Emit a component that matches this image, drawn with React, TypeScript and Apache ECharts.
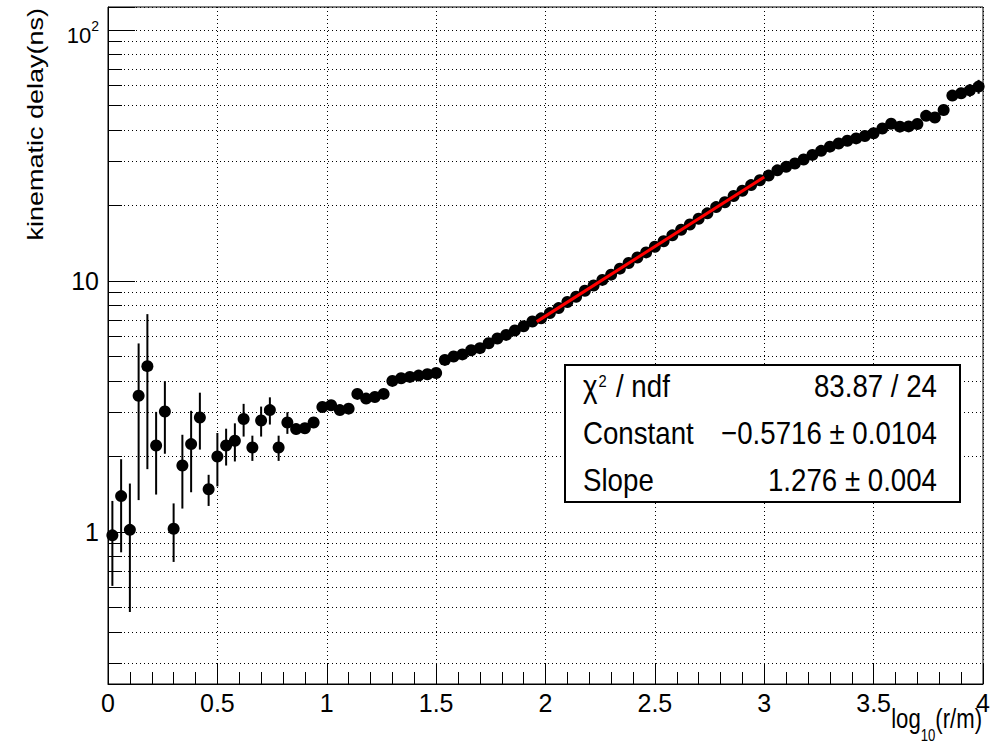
import { useEffect, useRef } from 'react';
import * as echarts from 'echarts';

// bin centres of log10(r/m)
const xCenters = [
  0.02, 0.06, 0.1, 0.14, 0.18, 0.22, 0.26, 0.3, 0.34, 0.38,
  0.42, 0.46, 0.5, 0.54, 0.58, 0.62, 0.66, 0.7, 0.74, 0.78,
  0.82, 0.86, 0.9, 0.94, 0.98, 1.02, 1.06, 1.1, 1.14, 1.18,
  1.22, 1.26, 1.3, 1.34, 1.38, 1.42, 1.46, 1.5, 1.54, 1.58,
  1.62, 1.66, 1.7, 1.74, 1.78, 1.82, 1.86, 1.9, 1.94, 1.98,
  2.02, 2.06, 2.1, 2.14, 2.18, 2.22, 2.26, 2.3, 2.34, 2.38,
  2.42, 2.46, 2.5, 2.54, 2.58, 2.62, 2.66, 2.7, 2.74, 2.78,
  2.82, 2.86, 2.9, 2.94, 2.98, 3.02, 3.06, 3.1, 3.14, 3.18,
  3.22, 3.26, 3.3, 3.34, 3.38, 3.42, 3.46, 3.5, 3.54, 3.58,
  3.62, 3.66, 3.7, 3.74, 3.78, 3.82, 3.86, 3.9, 3.94, 3.98,
];
const xHalfWidth = 0.02;

// kinematic delay (ns)
const delayValues = [
  0.97, 1.39, 1.02, 3.49, 4.58, 2.21, 3.02, 1.03, 1.84, 2.24,
  2.86, 1.48, 2.0, 2.21, 2.31, 2.82, 2.17, 2.78, 3.06, 2.17,
  2.73, 2.57, 2.59, 2.73, 3.15, 3.2, 3.06, 3.1, 3.55, 3.4,
  3.45, 3.55, 4.0, 4.1, 4.15, 4.2, 4.25, 4.3, 4.85, 5.0,
  5.1, 5.3, 5.4, 5.65, 5.9, 6.1, 6.35, 6.6, 6.9, 7.1,
  7.45, 7.8, 8.25, 8.65, 9.15, 9.6, 10.1, 10.6, 11.2, 11.8,
  12.4, 13.0, 13.7, 14.4, 15.2, 16.0, 16.8, 17.7, 18.6, 19.7,
  20.6, 21.8, 22.9, 24.1, 25.2, 26.3, 27.6, 28.5, 29.4, 30.5,
  31.8, 33.0, 34.3, 35.3, 36.2, 37.0, 37.8, 38.8, 40.5, 42.3,
  41.2, 41.3, 42.2, 45.5, 44.8, 48.0, 54.8, 56.0, 57.5, 59.5,
];

const delayErrors = [
  0.36, 0.56, 0.54, 2.15, 2.8, 0.8, 0.97, 0.27, 0.6, 0.8,
  0.73, 0.21, 0.48, 0.37, 0.4, 0.42, 0.25, 0.38, 0.38, 0.25,
  0.27, 0.12, 0.1, 0.12, 0.1, 0.1, 0.09, 0.09, 0.09, 0.08,
  0.08, 0.08, 0.09, 0.08, 0.08, 0.08, 0.08, 0.08, 0.09, 0.09,
  0.09, 0.09, 0.09, 0.09, 0.1, 0.1, 0.1, 0.1, 0.11, 0.11,
  0.11, 0.12, 0.12, 0.13, 0.13, 0.14, 0.15, 0.15, 0.16, 0.17,
  0.18, 0.19, 0.2, 0.21, 0.22, 0.23, 0.25, 0.26, 0.28, 0.3,
  0.32, 0.34, 0.36, 0.38, 0.4, 0.43, 0.46, 0.5, 0.53, 0.57,
  0.6, 0.65, 0.7, 0.75, 0.8, 0.85, 0.9, 0.95, 1.0, 1.1,
  1.2, 1.3, 1.4, 1.6, 1.8, 2.0, 2.4, 2.8, 3.3, 3.8,
];

// fitted exponential (straight on the log axis), end points
const fitX = [1.96, 3.0];
const fitY = [6.89, 25.96];

const xMin = 0;
const xMax = 4;
const yMin = 0.248;
const yMax = 123.5;

const xTickValues = [0, 0.5, 1, 1.5, 2, 2.5, 3, 3.5, 4];
const xTickLabels = ['0', '0.5', '1', '1.5', '2', '2.5', '3', '3.5', '4'];
const yTickValues = [1, 10, 100];
const yTickLabels = ['1', '10', '{base|10}{sup|2}'];
const yMinorValues = [
  0.3, 0.4, 0.5, 0.6, 0.7, 0.8, 0.9,
  2, 3, 4, 5, 6, 7, 8, 9,
  20, 30, 40, 50, 60, 70, 80, 90,
];

const statsNames = ['χ{sup|2} / ndf', 'Constant', 'Slope'];
const statsValues = ['83.87 / 24', '−0.5716 ± 0.0104', '1.276 ± 0.004'];

const xTitle = '{m|log}{sub|10}{m|(r/m)}';
const yTitle = 'kinematic delay(ns)';

const NARROW = "'Liberation Sans Narrow', 'Arial Narrow', 'Liberation Sans', Arial, sans-serif";
const SANS = "'Liberation Sans', Arial, Helvetica, sans-serif";

function findLabel(values: number[], labels: string[], v: number): string {
  for (let i = 0; i < values.length; i++) {
    if (Math.abs(values[i] - v) < 1e-6 * Math.max(1, Math.abs(v))) return labels[i];
  }
  return '';
}

export default function App() {
  const ref = useRef<HTMLDivElement>(null);

  useEffect(() => {
    if (!ref.current) return;
    const chart = echarts.init(ref.current, undefined, { renderer: 'svg' });

    const points = xCenters.map((x, i) => [x, delayValues[i], delayErrors[i]]);
    const fitData = fitX.map((x, i) => [x, fitY[i]]);

    const minorGrid = yMinorValues.map((v) => ({ yAxis: v }));
    const minorTicks = yMinorValues.map((v) => [
      { coord: [xMin, v], lineStyle: { type: 'solid', color: '#000', width: 1 } },
      { coord: [xMin + 0.064, v] },
    ]);

    const statsGraphics: any[] = [
      {
        type: 'rect',
        z: 100,
        shape: { x: 565, y: 365, width: 395, height: 137 },
        style: { fill: '#fff', stroke: '#000', lineWidth: 2 },
      },
    ];
    const rowY = [386, 433, 480];
    statsNames.forEach((name, i) => {
      statsGraphics.push({
        type: 'text',
        z: 101,
        x: 583,
        y: rowY[i],
        scaleX: 0.865,
        style: {
          text: name,
          fontSize: 32,
          fontFamily: SANS,
          fill: '#000',
          align: 'left',
          verticalAlign: 'middle',
          rich: {
            sup: { fontSize: 17, lineHeight: 17, padding: [3, 2, 0, 1], verticalAlign: 'top', fontFamily: SANS, fill: '#000' },
          },
        },
      });
      statsGraphics.push({
        type: 'text',
        z: 101,
        x: 937,
        y: rowY[i],
        scaleX: 0.865,
        style: {
          text: statsValues[i],
          fontSize: 32,
          fontFamily: SANS,
          fill: '#000',
          align: 'right',
          verticalAlign: 'middle',
        },
      });
    });

    const option: any = {
      animation: false,
      backgroundColor: '#fff',
      grid: {
        left: 108,
        right: 17,
        top: 7,
        bottom: 65,
        show: true,
        borderColor: '#000',
        borderWidth: 1,
        backgroundColor: 'transparent',
      },
      xAxis: {
        type: 'value',
        min: xMin,
        max: xMax,
        interval: 0.5,
        axisLine: { show: true, onZero: false, lineStyle: { color: '#000', width: 1 } },
        axisTick: { show: true, inside: true, length: 20, lineStyle: { color: '#000', width: 1 } },
        minorTick: { show: true, splitNumber: 5, length: 12, lineStyle: { color: '#000', width: 1 } },
        splitLine: { show: true, lineStyle: { color: '#000', type: [1, 3], width: 1 } },
        axisLabel: {
          margin: 6,
          fontSize: 25,
          color: '#000',
          fontFamily: NARROW,
          showMinLabel: true,
          showMaxLabel: true,
          formatter: (v: number) => findLabel(xTickValues, xTickLabels, v),
        },
      },
      yAxis: {
        type: 'log',
        logBase: 10,
        min: yMin,
        max: yMax,
        axisLine: { show: true, onZero: false, lineStyle: { color: '#000', width: 1 } },
        axisTick: { show: true, inside: true, length: 27, lineStyle: { color: '#000', width: 1 } },
        splitLine: { show: true, lineStyle: { color: '#000', type: [1, 3], width: 1 } },
        axisLabel: {
          margin: 9,
          fontSize: 25,
          color: '#000',
          fontFamily: NARROW,
          formatter: (v: number) => findLabel(yTickValues, yTickLabels, v),
          rich: {
            base: { fontSize: 22, lineHeight: 22, padding: [5, 0, 0, 0], verticalAlign: 'top', fontFamily: NARROW, color: '#000' },
            sup: { fontSize: 14, lineHeight: 14, verticalAlign: 'top', fontFamily: NARROW, color: '#000' },
          },
        },
      },
      graphic: [
        {
          type: 'text',
          x: 35,
          y: 8,
          rotation: Math.PI / 2,
          scaleY: 0.85,
          style: {
            text: yTitle,
            fontSize: 27,
            fontFamily: SANS,
            fill: '#000',
            align: 'right',
            verticalAlign: 'middle',
          },
        },
        {
          type: 'text',
          x: 982,
          y: 705,
          scaleX: 0.82,
          style: {
            text: xTitle,
            fontSize: 27,
            fontFamily: SANS,
            fill: '#000',
            align: 'right',
            verticalAlign: 'top',
            rich: {
              m: { fontSize: 27, lineHeight: 27, verticalAlign: 'top', fontFamily: SANS, fill: '#000' },
              sub: { fontSize: 16, lineHeight: 16, padding: [23, 0, 0, 0], verticalAlign: 'top', fontFamily: SANS, fill: '#000' },
            },
          },
        },
        ...statsGraphics,
      ],
      series: [
        {
          type: 'line',
          data: [],
          z: 1,
          silent: true,
          markLine: {
            silent: true,
            symbol: ['none', 'none'],
            label: { show: false },
            lineStyle: { color: '#000', type: [1, 3], width: 1 },
            emphasis: { disabled: true },
            data: [...minorGrid, ...minorTicks],
          },
        },
        {
          type: 'custom',
          clip: true,
          z: 3,
          silent: true,
          data: points,
          encode: { x: 0, y: 1 },
          renderItem: (_params: any, api: any) => {
            const x = api.value(0);
            const y = api.value(1);
            const e = api.value(2);
            const top = api.coord([x, Math.min(y + e, yMax)]);
            const bot = api.coord([x, Math.max(y - e, yMin)]);
            const l = api.coord([Math.max(x - xHalfWidth, xMin), y]);
            const r = api.coord([x + xHalfWidth, y]);
            return {
              type: 'group',
              children: [
                { type: 'line', shape: { x1: top[0], y1: top[1], x2: bot[0], y2: bot[1] }, style: { stroke: '#000', lineWidth: 2 } },
                { type: 'line', shape: { x1: l[0], y1: l[1], x2: r[0], y2: r[1] }, style: { stroke: '#000', lineWidth: 2 } },
              ],
            };
          },
        },
        {
          type: 'scatter',
          z: 4,
          silent: true,
          symbol: 'circle',
          symbolSize: 12,
          itemStyle: { color: '#000', opacity: 1 },
          data: points.map((p) => [p[0], p[1]]),
        },
        {
          type: 'line',
          z: 5,
          silent: true,
          showSymbol: false,
          symbol: 'none',
          lineStyle: { color: '#ff0000', width: 3 },
          data: fitData,
        },
      ],
    };

    chart.setOption(option);
    return () => chart.dispose();
  }, []);

  return (
    <div
      ref={ref}
      style={{ position: 'fixed', left: 0, top: 0, width: 1000, height: 749, background: '#fff' }}
    />
  );
}
